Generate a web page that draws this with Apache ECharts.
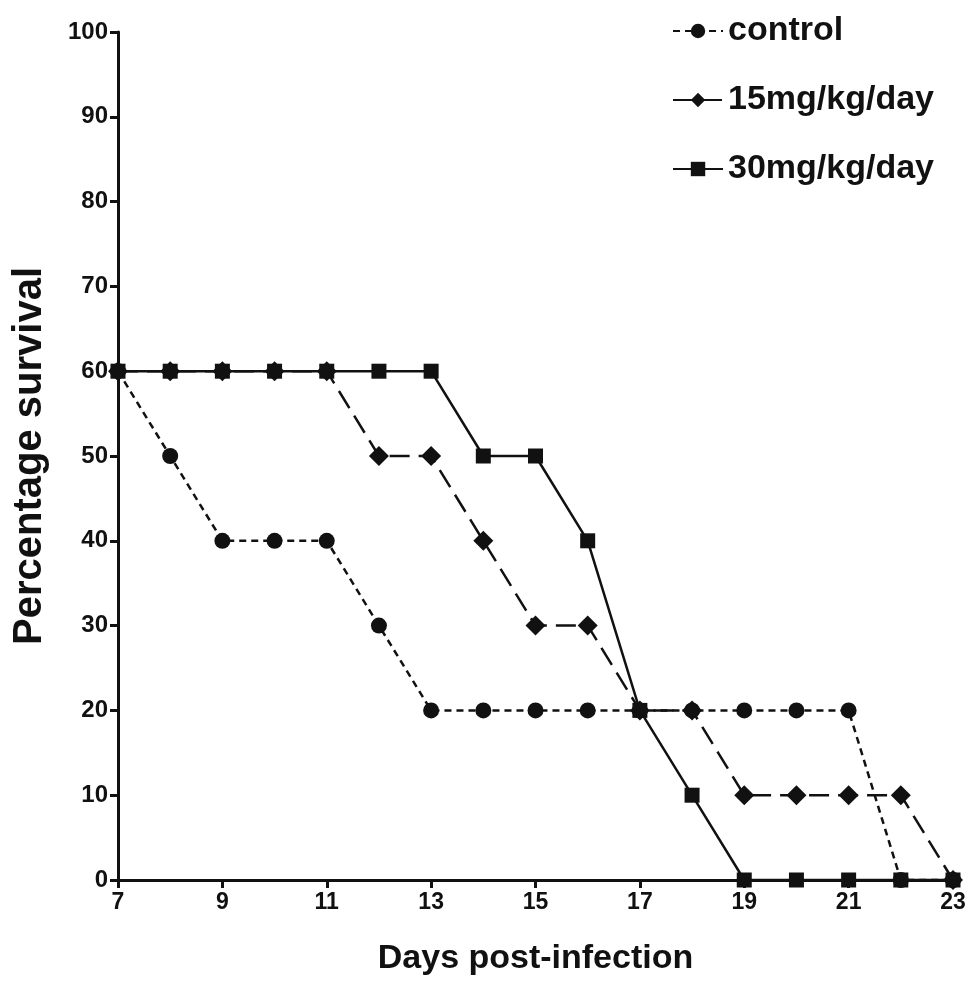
<!DOCTYPE html>
<html>
<head>
<meta charset="utf-8">
<script src="https://cdn.jsdelivr.net/npm/echarts@6/dist/echarts.min.js"></script>
<style>
html,body{margin:0;padding:0;background:#fff;}
#chart{width:971px;height:986px;}
</style>
</head>
<body>
<div id="chart"></div>
<script>
var days = [7, 8, 9, 10, 11, 12, 13, 14, 15, 16, 17, 18, 19, 20, 21, 22, 23];
var controlValues = [60, 50, 40, 40, 40, 30, 20, 20, 20, 20, 20, 20, 20, 20, 20, 0, 0];
var dose15Values = [60, 60, 60, 60, 60, 50, 50, 40, 30, 30, 20, 20, 10, 10, 10, 10, 0];
var dose30Values = [60, 60, 60, 60, 60, 60, 60, 50, 50, 40, 20, 10, 0, 0, 0, 0, 0];
var seriesNames = ['control', '15mg/kg/day', '30mg/kg/day'];
var xTitle = 'Days post-infection';
var yTitle = 'Percentage survival';

function pairs(vals) { return days.map(function (d, i) { return [d, vals[i]]; }); }

var FONT = 'Liberation Sans, Arial, sans-serif';
var chart = echarts.init(document.getElementById('chart'));
chart.setOption({
  backgroundColor: '#ffffff',
  animation: false,
  grid: { left: 118, right: 18, top: 32, bottom: 106 },
  legend: {
    orient: 'vertical',
    right: 32,
    top: 9,
    itemWidth: 50,
    itemHeight: 18,
    itemGap: 35,
    textStyle: { fontFamily: FONT, fontWeight: 'bold', fontSize: 34, color: '#111' },
    data: seriesNames
  },
  xAxis: {
    type: 'value', min: 7, max: 23, interval: 2,
    name: xTitle, nameLocation: 'middle', nameGap: 62,
    nameTextStyle: { fontFamily: FONT, fontWeight: 'bold', fontSize: 34, color: '#111' },
    axisLine: { lineStyle: { color: '#111', width: 3 } },
    axisTick: { show: true, length: 8, lineStyle: { color: '#111', width: 3 } },
    axisLabel: { fontFamily: FONT, fontWeight: 'bold', fontSize: 23, color: '#111', margin: 11 },
    splitLine: { show: false }
  },
  yAxis: {
    type: 'value', min: 0, max: 100, interval: 10,
    name: yTitle, nameLocation: 'middle', nameGap: 68, nameRotate: 90,
    nameTextStyle: { fontFamily: FONT, fontWeight: 'bold', fontSize: 40, color: '#111' },
    axisLine: { show: true, lineStyle: { color: '#111', width: 3 } },
    axisTick: { show: true, length: 8, lineStyle: { color: '#111', width: 3 } },
    axisLabel: { fontFamily: FONT, fontWeight: 'bold', fontSize: 24, color: '#111', margin: 10 },
    splitLine: { show: false }
  },
  series: [
    {
      name: seriesNames[0], type: 'line', data: pairs(controlValues),
      symbol: 'circle', symbolSize: 16, clip: false,
      lineStyle: { color: '#111', width: 2.5, type: [7, 5] },
      itemStyle: { color: '#111' }, z: 3
    },
    {
      name: seriesNames[1], type: 'line', data: pairs(dose15Values),
      symbol: 'diamond', symbolSize: 20, clip: false,
      lineStyle: { color: '#111', width: 2.5, type: [20, 9] },
      itemStyle: { color: '#111' }, z: 4
    },
    {
      name: seriesNames[2], type: 'line', data: pairs(dose30Values),
      symbol: 'rect', symbolSize: 15, clip: false,
      lineStyle: { color: '#111', width: 2.5, type: 'solid' },
      itemStyle: { color: '#111' }, z: 5
    }
  ]
});
</script>
</body>
</html>
